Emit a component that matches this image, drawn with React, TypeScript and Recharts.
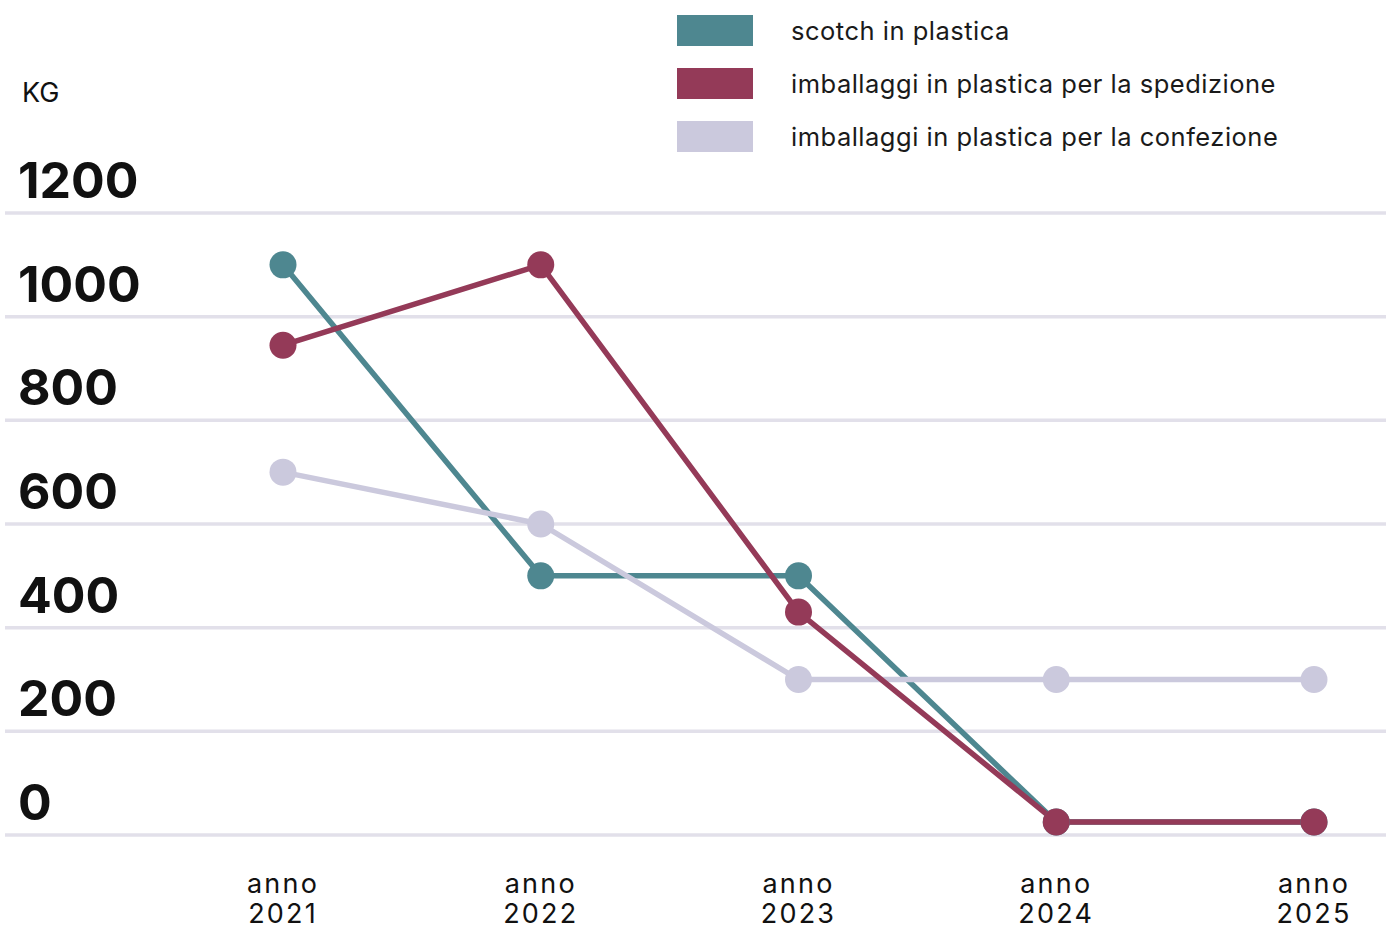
import { LineChart, Line, XAxis, YAxis, CartesianGrid } from "recharts";

const years = ["anno 2021", "anno 2022", "anno 2023", "anno 2024", "anno 2025"];
const scotch = [1100, 500, 500, 25, 25];
const spedizione = [945, 1100, 430, 25, 25];
const confezione = [700, 600, 300, 300, 300];
const yTicks = [0, 200, 400, 600, 800, 1000, 1200];

const series = [
  { key: "scotch", name: "scotch in plastica", color: "#4e8790" },
  { key: "confezione", name: "imballaggi in plastica per la confezione", color: "#cbc9dd" },
  { key: "spedizione", name: "imballaggi in plastica per la spedizione", color: "#943a58" },
];
const legendOrder = ["scotch", "spedizione", "confezione"];

const data = years.map((year, i) => ({
  year,
  scotch: scotch[i],
  spedizione: spedizione[i],
  confezione: confezione[i],
}));

const font = "Inter, 'Noto Sans', sans-serif";

const renderYTick = (props: any) => {
  const { y, payload } = props;
  return (
    <text x={18} y={y - 15} fontFamily={font} fontSize={50} fontWeight={700} fill="#111">
      {payload.value}
    </text>
  );
};

const renderXTick = (props: any) => {
  const { x, payload } = props;
  const [a, b] = String(payload.value).split(" ");
  return (
    <text textAnchor="middle" fontFamily={font} fontSize={27} letterSpacing={2.2} fill="#111">
      <tspan x={x} y={893}>{a}</tspan>
      <tspan x={x} y={923}>{b}</tspan>
    </text>
  );
};

export default function App() {
  return (
    <div style={{ position: "absolute", left: 0, top: 0, width: 1386, height: 925 }}>
      <div style={{ position: "absolute", left: 22, top: 76, fontFamily: font, fontSize: 27, color: "#111" }}>
        KG
      </div>
      <div style={{ position: "absolute", left: 677, top: 4, fontFamily: font }}>
        {legendOrder.map((k) => {
          const s = series.find((d) => d.key === k)!;
          return (
            <div key={k} style={{ display: "flex", alignItems: "center", height: 53 }}>
              <div style={{ width: 76, height: 31, background: s.color }} />
              <span style={{ marginLeft: 38, fontSize: 25.5, letterSpacing: 0.5, color: "#1a1a1a" }}>{s.name}</span>
            </div>
          );
        })}
      </div>
      <LineChart width={1386} height={925} data={data} margin={{ top: 213, right: 0, bottom: 0, left: 4 }}>
        <CartesianGrid vertical={false} stroke="#e2e0ea" strokeWidth={3.5} />
        <XAxis
          dataKey="year"
          axisLine={false}
          tickLine={false}
          tick={renderXTick}
          padding={{ left: 278, right: 72 }}
          interval={0}
          height={90}
        />
        <YAxis
          domain={[0, 1200]}
          ticks={yTicks}
          width={1}
          axisLine={false}
          tickLine={false}
          tick={renderYTick}
          interval={0}
        />
        {series.map((s) => (
          <Line
            key={s.key}
            dataKey={s.key}
            name={s.name}
            stroke={s.color}
            strokeWidth={5.5}
            dot={{ r: 13.5, fill: s.color, stroke: "none" }}
            activeDot={false}
            isAnimationActive={false}
          />
        ))}
      </LineChart>
    </div>
  );
}
